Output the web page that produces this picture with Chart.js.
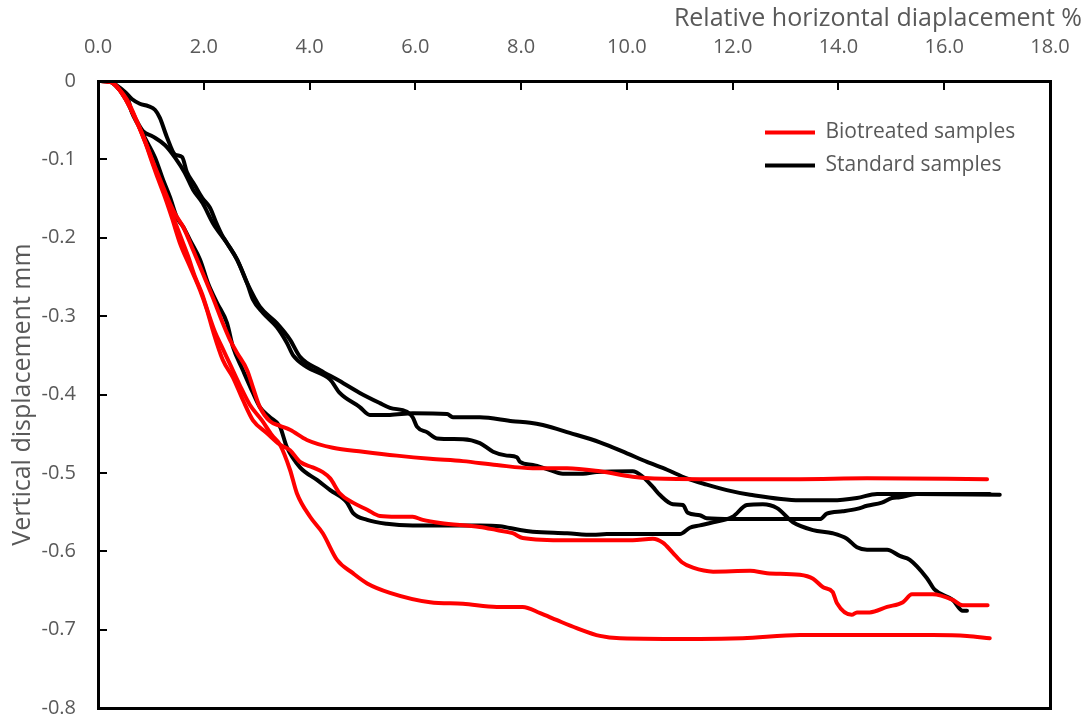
<!DOCTYPE html>
<html>
<head>
<meta charset="utf-8">
<script src="https://cdn.jsdelivr.net/npm/chart.js@4.4.0/dist/chart.umd.min.js"></script>
<style>
  html, body { margin: 0; padding: 0; background: #fff; }
  #wrap { width: 1088px; height: 720px; }
  canvas { display: block; }
</style>
</head>
<body>
<div id="wrap"><canvas id="shear" width="1088" height="720"></canvas></div>
<script>
// [horizontal displacement %, vertical displacement mm]
const bioA = [[0,0],[0.23,-0.001],[0.38,-0.009],[0.55,-0.024],[0.74,-0.052],[0.93,-0.084],[1.08,-0.110],[1.23,-0.135],[1.36,-0.156],[1.47,-0.171],[1.61,-0.186],[1.80,-0.216],[1.98,-0.245],[2.17,-0.276],[2.36,-0.309],[2.50,-0.331],[2.63,-0.347],[2.82,-0.369],[2.93,-0.391],[3.06,-0.416],[3.25,-0.434],[3.44,-0.440],[3.63,-0.445],[3.95,-0.458],[4.44,-0.468],[5.01,-0.473],[5.65,-0.478],[6.28,-0.482],[6.90,-0.485],[7.54,-0.490],[8.22,-0.494],[8.87,-0.494],[9.49,-0.498],[10.11,-0.505],[10.43,-0.507],[11.38,-0.508],[13.27,-0.508],[14.54,-0.507],[16.81,-0.508]];
const bioB = [[0,0],[0.23,-0.001],[0.38,-0.009],[0.51,-0.022],[0.70,-0.047],[0.89,-0.078],[1.02,-0.103],[1.13,-0.124],[1.27,-0.149],[1.40,-0.175],[1.55,-0.207],[1.74,-0.237],[1.93,-0.267],[2.06,-0.292],[2.17,-0.318],[2.36,-0.356],[2.55,-0.378],[2.74,-0.407],[2.93,-0.433],[3.19,-0.449],[3.44,-0.464],[3.63,-0.471],[3.82,-0.486],[4.06,-0.493],[4.25,-0.499],[4.39,-0.507],[4.57,-0.526],[4.82,-0.538],[5.09,-0.547],[5.33,-0.555],[5.65,-0.556],[5.95,-0.556],[6.14,-0.560],[6.47,-0.564],[7.22,-0.569],[7.54,-0.573],[7.84,-0.577],[8.03,-0.583],[8.87,-0.586],[10.11,-0.586],[10.49,-0.584],[10.68,-0.589],[10.87,-0.602],[11.04,-0.614],[11.25,-0.621],[11.63,-0.626],[12.33,-0.625],[12.65,-0.628],[13.27,-0.630],[13.52,-0.635],[13.71,-0.646],[13.89,-0.652],[13.97,-0.666],[14.25,-0.681],[14.35,-0.678],[14.59,-0.678],[14.92,-0.671],[15.22,-0.665],[15.39,-0.655],[15.78,-0.655],[16.16,-0.662],[16.35,-0.669],[16.82,-0.669]];
const bioC = [[0,0],[0.23,-0.001],[0.38,-0.009],[0.53,-0.024],[0.72,-0.050],[0.91,-0.080],[1.04,-0.105],[1.17,-0.128],[1.30,-0.152],[1.44,-0.177],[1.57,-0.200],[1.70,-0.223],[1.83,-0.249],[1.97,-0.272],[2.08,-0.295],[2.21,-0.320],[2.34,-0.339],[2.50,-0.362],[2.68,-0.388],[2.87,-0.413],[3.10,-0.433],[3.29,-0.452],[3.44,-0.464],[3.63,-0.496],[3.76,-0.526],[4.01,-0.556],[4.25,-0.577],[4.52,-0.611],[4.82,-0.628],[5.09,-0.641],[5.52,-0.653],[6.28,-0.665],[6.90,-0.667],[7.54,-0.671],[8.03,-0.671],[8.36,-0.679],[8.68,-0.688],[9.05,-0.698],[9.49,-0.708],[9.87,-0.711],[11.38,-0.712],[12.19,-0.711],[13.27,-0.707],[15.78,-0.707],[16.43,-0.708],[16.86,-0.711]];
const stdA = [[0,0],[0.23,-0.001],[0.36,-0.006],[0.51,-0.014],[0.64,-0.023],[0.79,-0.029],[0.95,-0.032],[1.08,-0.037],[1.17,-0.047],[1.30,-0.071],[1.46,-0.094],[1.59,-0.097],[1.68,-0.116],[1.83,-0.133],[1.97,-0.149],[2.12,-0.162],[2.23,-0.180],[2.34,-0.196],[2.44,-0.207],[2.63,-0.228],[2.82,-0.258],[2.93,-0.279],[3.12,-0.296],[3.38,-0.314],[3.57,-0.334],[3.69,-0.350],[3.95,-0.365],[4.39,-0.381],[4.57,-0.398],[4.95,-0.416],[5.14,-0.426],[5.52,-0.426],[5.95,-0.424],[6.60,-0.425],[6.71,-0.429],[7.22,-0.429],[7.84,-0.434],[8.17,-0.436],[8.41,-0.439],[8.92,-0.449],[9.49,-0.461],[10.00,-0.475],[10.38,-0.486],[10.76,-0.496],[11.13,-0.507],[11.51,-0.515],[11.89,-0.522],[12.33,-0.528],[13.27,-0.535],[13.89,-0.535],[14.35,-0.532],[14.73,-0.527],[15.48,-0.527],[17.05,-0.528]];
const stdB = [[0,0],[0.23,-0.001],[0.38,-0.009],[0.53,-0.024],[0.70,-0.047],[0.85,-0.064],[1.04,-0.071],[1.27,-0.082],[1.46,-0.098],[1.64,-0.117],[1.80,-0.139],[1.98,-0.156],[2.17,-0.181],[2.44,-0.207],[2.63,-0.228],[2.82,-0.258],[3.06,-0.288],[3.38,-0.309],[3.63,-0.330],[3.82,-0.352],[4.20,-0.369],[4.52,-0.381],[4.95,-0.398],[5.33,-0.411],[5.52,-0.417],[5.84,-0.422],[5.95,-0.429],[6.03,-0.441],[6.22,-0.448],[6.41,-0.456],[6.90,-0.457],[7.22,-0.462],[7.47,-0.473],[7.73,-0.478],[7.92,-0.480],[7.98,-0.486],[8.22,-0.490],[8.49,-0.495],[8.79,-0.501],[9.17,-0.501],[9.43,-0.499],[10.11,-0.498],[10.30,-0.505],[10.49,-0.518],[10.62,-0.528],[10.87,-0.540],[11.06,-0.541],[11.15,-0.551],[11.38,-0.554],[11.51,-0.558],[12.00,-0.559],[13.65,-0.559],[13.78,-0.552],[14.08,-0.549],[14.35,-0.546],[14.54,-0.542],[14.82,-0.538],[15.01,-0.532],[15.16,-0.531],[15.48,-0.527],[16.86,-0.527]];
const stdC = [[0,0],[0.23,-0.001],[0.38,-0.009],[0.57,-0.024],[0.64,-0.040],[0.76,-0.056],[0.89,-0.073],[1.08,-0.098],[1.23,-0.126],[1.36,-0.148],[1.49,-0.174],[1.61,-0.186],[1.74,-0.203],[1.93,-0.228],[2.08,-0.258],[2.25,-0.283],[2.44,-0.309],[2.55,-0.339],[2.74,-0.369],[2.93,-0.398],[3.06,-0.416],[3.25,-0.429],[3.44,-0.441],[3.57,-0.467],[3.82,-0.493],[4.14,-0.509],[4.39,-0.522],[4.71,-0.538],[4.82,-0.551],[5.09,-0.560],[5.46,-0.565],[5.95,-0.567],[7.22,-0.567],[7.60,-0.568],[7.98,-0.573],[8.22,-0.575],[8.87,-0.577],[9.36,-0.579],[9.62,-0.578],[11.00,-0.578],[11.19,-0.570],[11.38,-0.567],[11.63,-0.563],[12.00,-0.556],[12.27,-0.541],[12.57,-0.540],[12.84,-0.545],[13.14,-0.563],[13.52,-0.573],[13.89,-0.577],[14.16,-0.584],[14.35,-0.595],[14.54,-0.598],[14.92,-0.598],[15.16,-0.606],[15.35,-0.611],[15.67,-0.634],[15.82,-0.649],[16.16,-0.662],[16.35,-0.676],[16.43,-0.676]];

const xTicks = [0, 2, 4, 6, 8, 10, 12, 14, 16, 18];
const yTicks = [0, -0.1, -0.2, -0.3, -0.4, -0.5, -0.6, -0.7, -0.8];
const groups = ["Biotreated samples", "Standard samples"];
const groupColors = ["#ff0000", "#000000"];

const TEXT = "#595959";
Chart.defaults.font.family = '"Open Sans", sans-serif';
Chart.defaults.color = TEXT;

const makeSet = (pts, g) => ({
  label: groups[g],
  data: pts.map((p) => ({ x: p[0], y: p[1] })),
  borderColor: groupColors[g],
  backgroundColor: groupColors[g],
  borderWidth: 4,
  borderCapStyle: "round",
  borderJoinStyle: "round",
  pointRadius: 0,
  cubicInterpolationMode: "monotone",
  fill: false,
});

// plot frame, inward tick marks and the top axis title
const frame = {
  id: "frame",
  afterLayout(chart) {
    chart.legend.left = 753;
    chart.legend.top = 110;
  },
  afterDraw(chart) {
    const { ctx, scales } = chart;
    const xs = scales.x, ys = scales.y;
    const l = Math.round(xs.left), r = Math.round(xs.right);
    const t = Math.round(ys.top), b = Math.round(ys.bottom);
    ctx.save();
    ctx.fillStyle = "#000";
    ctx.fillRect(l - 1, t - 1, r - l + 3, 3);
    ctx.fillRect(l - 1, b - 1, r - l + 3, 3);
    ctx.fillRect(l - 1, t - 1, 3, b - t + 3);
    ctx.fillRect(r - 1, t - 1, 3, b - t + 3);
    xTicks.forEach((v) => {
      const px = Math.round(xs.getPixelForValue(v));
      ctx.fillRect(px - 1, t, 2, 9);
    });
    yTicks.forEach((v) => {
      const py = Math.round(ys.getPixelForValue(v));
      ctx.fillRect(l, py - 1, 9, 2);
    });
    ctx.fillStyle = TEXT;
    ctx.font = '25px "Open Sans", sans-serif';
    ctx.textAlign = "right";
    ctx.textBaseline = "middle";
    ctx.fillText("Relative horizontal diaplacement %", 1082, 19);
    ctx.restore();
  },
};

new Chart(document.getElementById("shear"), {
  type: "line",
  data: {
    datasets: [
      makeSet(bioA, 0), makeSet(bioB, 0), makeSet(bioC, 0),
      makeSet(stdA, 1), makeSet(stdB, 1), makeSet(stdC, 1),
    ],
  },
  options: {
    responsive: false,
    animation: false,
    layout: { padding: { left: 0, top: 0, right: 38, bottom: 12 } },
    scales: {
      x: {
        type: "linear",
        position: "top",
        min: xTicks[0],
        max: xTicks[xTicks.length - 1],
        afterFit: (s) => { s.height = 81; s.paddingRight = 0; },
        afterBuildTicks: (s) => { s.ticks = xTicks.map((v) => ({ value: v })); },
        grid: { display: false, drawTicks: false },
        border: { display: false },
        ticks: {
          padding: 22,
          font: { size: 20 },
          callback: (v) => v.toFixed(1),
        },
      },
      y: {
        type: "linear",
        min: yTicks[yTicks.length - 1],
        max: yTicks[0],
        afterFit: (s) => { s.width = 98; s.paddingTop = 0; s.paddingBottom = 0; },
        afterBuildTicks: (s) => { s.ticks = yTicks.map((v) => ({ value: v })); },
        grid: { display: false, drawTicks: false },
        border: { display: false },
        ticks: {
          padding: 22,
          font: { size: 20 },
          callback: (v) => (v === 0 ? "0" : v.toFixed(1)),
        },
        title: {
          display: true,
          text: "Vertical displacement mm",
          font: { size: 25 },
          padding: { top: 8, bottom: 0 },
        },
      },
    },
    plugins: {
      tooltip: { enabled: false },
      legend: {
        position: "chartArea",
        align: "start",
        fullSize: false,
        labels: {
          boxWidth: 50,
          boxHeight: 4,
          padding: 12,
          font: { size: 21 },
          color: TEXT,
          generateLabels: (chart) =>
            Chart.defaults.plugins.legend.labels
              .generateLabels(chart)
              .filter((l) => l.datasetIndex === 0 || l.datasetIndex === 3)
              .map((l) => ({ ...l, lineWidth: 0 })),
        },
      },
    },
  },
  plugins: [frame],
});
</script>
</body>
</html>
